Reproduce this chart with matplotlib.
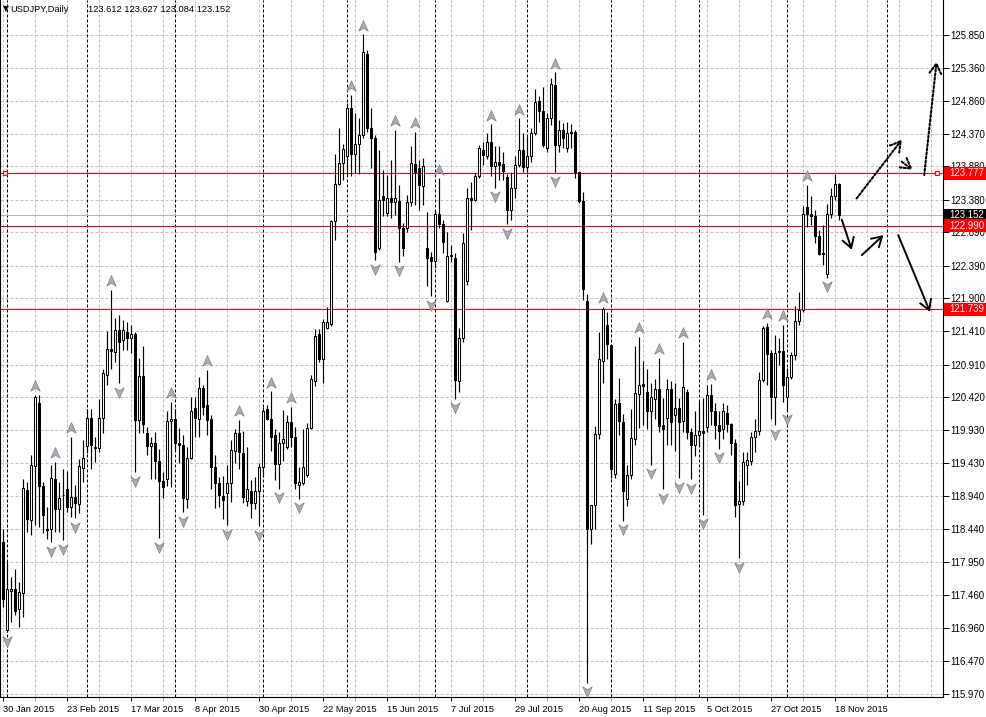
import numpy as np
import matplotlib
matplotlib.use("Agg")
import matplotlib.pyplot as plt
import matplotlib.transforms as mtransforms
from matplotlib.patches import Rectangle
from matplotlib.path import Path

plt.rcParams['font.family'] = ['Liberation Sans', 'DejaVu Sans']

# -------------------------
#  DATA
# -------------------------
symbol = "USDJPY,Daily"
header_ohlc = "123.612 123.627 123.084 123.152"

opens = [
    118.25, 116.93, 117.52, 117.54, 117.24, 117.49, 119.03, 118.58, 119.39, 120.34,
    119.09, 118.45, 118.45, 119.20, 118.75, 118.95, 119.04, 118.77, 118.93, 118.82,
    119.36, 119.69, 120.11, 119.66, 119.66, 120.11, 120.76, 121.14, 121.10, 121.43,
    121.28, 121.39, 121.31, 121.36, 120.08, 120.74, 119.88, 119.69, 119.73, 119.47,
    119.17, 119.19, 120.06, 120.10, 119.74, 119.71, 118.90, 119.51, 120.26, 120.10,
    120.56, 120.31, 120.09, 119.38, 119.13, 118.94, 118.98, 119.13, 119.61, 119.89,
    119.58, 118.87, 119.02, 118.84, 119.02, 119.37, 120.24, 120.09, 119.85, 119.42,
    119.74, 119.67, 120.05, 119.83, 119.11, 119.14, 119.25, 119.96, 120.67, 121.36,
    121.00, 121.46, 121.52, 123.06, 123.61, 123.93, 124.04, 124.75, 124.06, 124.22,
    124.35, 125.56, 124.46, 124.31, 122.65, 123.43, 123.18, 123.41, 123.35, 123.36,
    122.95, 122.95, 123.34, 123.91, 123.86, 123.59, 122.66, 122.52, 122.46, 123.16,
    123.02, 121.86, 122.55, 122.50, 120.66, 121.31, 122.16, 123.40, 123.38, 123.74,
    124.13, 124.03, 124.24, 123.89, 123.95, 123.92, 123.72, 123.23, 123.56, 123.90,
    124.13, 123.87, 124.03, 124.38, 124.86, 124.71, 124.15, 124.60, 125.10, 124.20,
    124.43, 124.15, 124.38, 124.40, 123.79, 123.36, 121.86, 118.44, 118.80, 119.87,
    120.96, 121.50, 121.20, 119.27, 120.33, 120.05, 118.89, 119.25, 119.79, 120.47,
    120.62, 120.50, 120.21, 120.39, 120.55, 120.00, 120.11, 120.54, 120.15, 120.26,
    120.06, 120.50, 119.90, 119.71, 119.85, 119.92, 119.97, 120.45, 120.21, 120.00,
    119.94, 120.18, 120.02, 119.73, 118.82, 118.86, 119.40, 119.46, 119.83, 119.91,
    120.68, 121.47, 121.08, 120.43, 121.12, 121.11, 120.42, 120.73, 121.05, 121.56,
    121.73, 123.27, 123.16, 123.13, 122.83, 122.58, 122.26, 123.16, 123.43, 123.612,
]
highs = [
    118.45, 117.95, 117.73, 117.85, 117.65, 119.20, 119.15, 119.55, 120.46, 120.45,
    119.15, 118.78, 119.40, 119.45, 119.15, 119.35, 119.31, 119.83, 119.10, 119.50,
    119.78, 120.25, 120.25, 119.83, 120.40, 120.85, 121.41, 122.03, 121.60, 121.65,
    121.58, 121.55, 121.50, 121.40, 121.01, 121.19, 119.98, 119.83, 119.90, 119.65,
    119.30, 120.21, 120.35, 120.25, 119.96, 119.85, 119.68, 120.43, 120.43, 120.73,
    120.60, 120.83, 120.15, 119.55, 119.23, 119.24, 119.40, 119.78, 119.95, 120.08,
    119.92, 119.67, 119.18, 119.23, 119.44, 120.28, 120.31, 120.51, 119.95, 119.90,
    120.23, 120.15, 120.28, 119.97, 119.38, 119.95, 120.04, 120.75, 121.44, 121.44,
    121.59, 121.77, 123.08, 124.06, 124.46, 124.22, 124.83, 124.95, 124.68, 124.60,
    125.86, 125.62, 124.75, 124.35, 124.13, 123.83, 123.75, 123.98, 124.43, 123.60,
    123.03, 123.45, 124.18, 124.40, 123.98, 124.00, 123.20, 122.60, 123.23, 123.70,
    123.08, 122.90, 122.70, 122.58, 121.45, 122.88, 123.55, 123.65, 123.78, 124.20,
    124.25, 124.38, 124.51, 124.18, 124.18, 124.10, 123.76, 123.79, 124.03, 124.60,
    124.38, 124.32, 124.45, 125.04, 124.94, 125.07, 124.68, 125.21, 125.29, 124.57,
    124.53, 124.54, 124.51, 124.43, 123.80, 123.49, 121.96, 118.80, 119.99, 121.39,
    121.77, 121.70, 121.21, 120.40, 120.71, 120.17, 119.40, 120.24, 121.19, 121.32,
    120.96, 120.85, 120.64, 120.70, 121.01, 120.41, 120.69, 120.66, 120.64, 120.41,
    121.25, 120.54, 119.96, 120.21, 120.36, 120.41, 120.60, 120.62, 120.34, 120.21,
    120.34, 120.30, 120.03, 119.80, 119.16, 119.60, 119.60, 119.90, 120.10, 120.80,
    121.48, 121.53, 121.13, 121.35, 121.30, 121.50, 120.86, 121.10, 121.78, 122.00,
    123.28, 123.60, 123.43, 123.23, 122.93, 123.00, 123.31, 123.56, 123.76, 123.627,
]
lows = [
    117.28, 116.90, 117.05, 117.15, 116.98, 117.13, 118.40, 118.35, 118.50, 118.48,
    118.38, 118.30, 118.25, 118.40, 118.40, 118.28, 118.70, 118.63, 118.61, 118.68,
    119.15, 119.58, 119.35, 119.45, 119.60, 119.88, 120.60, 120.85, 120.95, 120.63,
    121.13, 121.13, 121.08, 119.30, 119.88, 119.88, 119.55, 119.20, 119.20, 118.31,
    118.91, 119.09, 119.08, 119.63, 119.43, 118.70, 118.76, 119.50, 119.83, 119.83,
    120.15, 119.85, 119.05, 118.76, 118.78, 118.60, 118.50, 118.85, 119.43, 119.35,
    118.84, 118.79, 118.61, 118.74, 118.49, 119.23, 120.08, 119.61, 119.18, 119.05,
    119.46, 119.64, 119.67, 119.05, 118.90, 119.10, 119.23, 119.95, 120.59, 120.95,
    120.64, 121.44, 121.49, 122.78, 123.60, 123.68, 123.73, 123.73, 123.78, 123.77,
    124.30, 124.40, 123.85, 122.47, 122.63, 123.13, 123.13, 123.10, 123.15, 122.45,
    122.53, 122.90, 123.28, 123.30, 123.23, 123.30, 122.08, 121.93, 122.35, 122.95,
    122.58, 121.84, 122.45, 120.40, 120.50, 121.25, 122.10, 122.93, 123.36, 123.70,
    123.90, 123.99, 123.73, 123.56, 123.68, 123.67, 123.01, 123.08, 123.40, 123.87,
    123.79, 123.79, 123.95, 124.35, 124.54, 124.17, 124.09, 124.50, 123.79, 124.10,
    124.15, 124.09, 124.15, 123.70, 123.33, 121.87, 116.14, 118.22, 118.44, 119.80,
    120.64, 121.00, 119.21, 119.21, 119.85, 118.57, 118.79, 119.19, 119.70, 119.96,
    120.00, 119.95, 119.41, 120.10, 119.90, 119.04, 119.71, 119.70, 119.61, 119.21,
    119.90, 119.80, 119.19, 119.54, 119.70, 118.66, 119.90, 120.00, 119.80, 119.65,
    119.80, 119.90, 119.55, 118.62, 118.01, 118.80, 119.10, 119.40, 119.60, 119.85,
    120.65, 120.60, 120.10, 120.00, 120.90, 120.35, 120.22, 120.70, 120.98, 121.50,
    121.70, 122.97, 123.00, 122.73, 122.55, 122.40, 122.21, 123.10, 123.38, 123.084,
]
closes = [
    117.40, 117.55, 117.55, 117.21, 117.50, 119.06, 118.59, 119.40, 120.43, 119.09,
    118.65, 118.43, 119.21, 118.75, 118.91, 118.96, 118.78, 118.93, 118.84, 119.39,
    119.51, 120.11, 119.70, 119.67, 120.11, 120.78, 121.14, 121.11, 121.43, 121.25,
    121.43, 121.30, 121.36, 120.08, 120.74, 120.02, 119.69, 119.74, 119.46, 119.16,
    119.08, 120.06, 120.09, 119.73, 119.70, 118.91, 119.51, 120.22, 120.11, 120.56,
    120.28, 120.08, 119.38, 119.13, 118.95, 118.88, 119.13, 119.63, 119.89, 119.60,
    118.92, 119.04, 118.84, 119.01, 119.37, 120.21, 120.10, 119.82, 119.42, 119.73,
    119.79, 120.05, 119.83, 119.13, 119.15, 119.38, 119.96, 120.69, 121.34, 121.00,
    121.54, 121.54, 123.06, 123.61, 123.93, 124.14, 124.75, 124.06, 124.22, 124.35,
    125.59, 124.46, 124.31, 122.60, 123.38, 123.38, 123.40, 123.34, 123.41, 122.95,
    122.65, 123.34, 123.93, 123.80, 123.60, 123.88, 122.50, 122.46, 123.16, 123.01,
    122.75, 122.54, 122.54, 120.68, 121.31, 122.73, 123.41, 123.38, 123.74, 124.15,
    124.05, 124.24, 123.89, 123.95, 123.90, 123.81, 123.23, 123.56, 123.90, 124.13,
    123.87, 124.03, 124.38, 124.85, 124.71, 124.20, 124.60, 125.11, 124.20, 124.43,
    124.30, 124.38, 124.40, 123.79, 123.36, 122.04, 118.44, 118.80, 119.87, 121.00,
    121.74, 121.21, 119.35, 120.32, 120.06, 119.01, 119.25, 119.81, 120.49, 120.60,
    120.59, 120.21, 120.42, 120.55, 119.99, 119.95, 120.54, 120.05, 120.26, 120.05,
    120.57, 119.90, 119.71, 119.86, 119.92, 119.89, 120.46, 120.21, 120.00, 119.92,
    120.21, 120.02, 119.73, 118.81, 118.87, 119.45, 119.48, 119.83, 119.91, 120.68,
    121.45, 121.07, 120.43, 121.08, 121.10, 120.60, 120.73, 121.05, 121.56, 121.73,
    123.16, 123.16, 123.13, 122.83, 122.57, 122.57, 123.16, 123.43, 123.62, 123.152,
]

date_labels = ["30 Jan 2015", "23 Feb 2015", "17 Mar 2015", "8 Apr 2015", "30 Apr 2015",
               "22 May 2015", "15 Jun 2015", "7 Jul 2015", "29 Jul 2015", "20 Aug 2015",
               "11 Sep 2015", "5 Oct 2015", "27 Oct 2015", "18 Nov 2015"]
bars_per_label = 16
bars_per_grid = 8
month_starts = [1, 21, 43, 65, 86, 108, 131, 152, 174, 196, 221]

price_ticks = [125.850, 125.360, 124.860, 124.370, 123.880, 123.380, 122.890, 122.390,
               121.900, 121.410, 120.910, 120.420, 119.930, 119.430, 118.940, 118.440,
               117.950, 117.460, 116.960, 116.470, 115.970]

fractal_up = [8, 13, 17, 27, 42, 51, 59, 67, 72, 87, 90, 98, 103, 109, 122, 129, 138,
              150, 159, 164, 170, 177, 191, 195, 201]
fractal_down = [1, 12, 15, 18, 29, 33, 39, 45, 56, 64, 69, 74, 93, 99, 107, 113, 123, 126,
                138, 146, 155, 162, 165, 169, 172, 175, 179, 184, 193, 196, 206]

level_lines = [123.777, 122.990, 121.739]
bid_price = 123.152

# hand drawn arrows: (bar0, price0, bar1, price1)
dotted_arrows = [(213.4, 123.40, 224.7, 124.28),
                 (224.7, 123.95, 227.4, 123.83),
                 (230.3, 123.75, 233.4, 125.45)]
solid_arrows = [(209.7, 123.08, 212.2, 122.63),
                (214.7, 122.55, 220.1, 122.85),
                (223.8, 122.85, 231.75, 121.70)]

# -------------------------
#  FIGURE
# -------------------------
W, H = 986, 717
fig = plt.figure(figsize=(W / 100, H / 100), dpi=100)
fig.patch.set_facecolor('white')
ax = fig.add_axes([0, 20 / H, 943 / W, 697 / H])
ax.set_xlim(-0.75, 235)
ax.set_ylim(115.925, 126.375)

GRID = '#c0c0c0'
FS = 6.7
FS_AXIS = 6.9

# grid
for p in price_ticks:
    ax.axhline(p, color=GRID, lw=0.72, ls=(0, (3, 2)), zorder=0.5)
for k in range(0, 30):
    ax.axvline(k * bars_per_grid, color=GRID, lw=0.72, ls=(0, (3, 2)), zorder=0.5)
for m in month_starts:
    ax.axvline(m, color='black', lw=0.72, ls=(0, (3, 2)), zorder=1)

# horizontal levels
ax.axhline(bid_price, color='#b4b4b4', lw=0.72, zorder=1.5)
for p in level_lines:
    ax.axhline(p, color='#ff0000', lw=0.72, zorder=2)

# candles
o = np.array(opens); h = np.array(highs); l = np.array(lows); c = np.array(closes)
x = np.arange(len(o))
bull = c >= o
ax.vlines(x, l, h, color='black', lw=0.85, zorder=3)
ax.bar(x[bull], c[bull] - o[bull], bottom=o[bull], width=0.6, color='white',
       edgecolor='black', lw=0.75, zorder=4)
ax.bar(x[~bull], o[~bull] - c[~bull], bottom=c[~bull], width=0.6, color='black',
       edgecolor='black', lw=0.75, zorder=4)

# fractal arrows
up_marker = Path([(0, 1), (0.8, -0.8), (0, -0.3), (-0.8, -0.8), (0, 1)],
                 [Path.MOVETO, Path.LINETO, Path.LINETO, Path.LINETO, Path.CLOSEPOLY])
dn_marker = Path([(0, -1), (0.8, 0.8), (0, 0.3), (-0.8, 0.8), (0, -1)],
                 [Path.MOVETO, Path.LINETO, Path.LINETO, Path.LINETO, Path.CLOSEPOLY])
fu = np.array(fractal_up); fd = np.array(fractal_down)
ax.plot(fu, h[fu] + 0.13, ls='none', marker=up_marker, ms=8.5, mfc='#a9abb6',
        mec='#7d7f8a', mew=0.5, zorder=5)
ax.plot(fd, l[fd] - 0.13, ls='none', marker=dn_marker, ms=8.5, mfc='#a9abb6',
        mec='#7d7f8a', mew=0.5, zorder=5)

# drawn arrows
for x0, p0, x1, p1 in dotted_arrows:
    ax.annotate('', xy=(x1, p1), xytext=(x0, p0), annotation_clip=False,
                arrowprops=dict(arrowstyle='->,head_length=0.5,head_width=0.3',
                                lw=1.5, ls=(0, (1, 1)), color='black',
                                mutation_scale=14, shrinkA=0, shrinkB=0), zorder=6)
for x0, p0, x1, p1 in solid_arrows:
    ax.annotate('', xy=(x1, p1), xytext=(x0, p0), annotation_clip=False,
                arrowprops=dict(arrowstyle='->,head_length=0.5,head_width=0.3',
                                lw=1.4, color='black', mutation_scale=14,
                                shrinkA=0, shrinkB=0), zorder=6)

# anchor squares of the selected line
trans = mtransforms.blended_transform_factory(ax.transAxes, ax.transData)
ax.plot([5 / 943, 937 / 943], [level_lines[0]] * 2, transform=trans, ls='none',
        marker='s', ms=3.5, mfc='white', mec='#ff0000', mew=0.8, zorder=7, clip_on=False)

# axes styling
for side in ['left', 'right', 'bottom']:
    ax.spines[side].set_color('black')
    ax.spines[side].set_linewidth(0.8)
ax.spines['top'].set_visible(False)

ax.yaxis.tick_right()
ax.set_yticks(price_ticks)
ax.set_yticklabels([f"{p:.3f}" for p in price_ticks])
ax.tick_params(axis='y', length=4, width=0.7, pad=1.5, labelsize=FS_AXIS, colors='black')

ax.set_xticks([k * bars_per_label for k in range(len(date_labels))])
ax.set_xticklabels(date_labels, ha='left')
ax.set_xticks([k * bars_per_label + bars_per_grid for k in range(len(date_labels))], minor=True)
ax.tick_params(axis='x', which='major', length=3, width=0.7, pad=2.5, labelsize=FS)
ax.tick_params(axis='x', which='minor', length=3, width=0.7, color='#a0a0a0')

# price tags on the right axis
tag_h = 0.19
for p, fc in [(level_lines[0], '#ff0000'), (bid_price, 'black'),
              (level_lines[1], '#ff0000'), (level_lines[2], '#ff0000')]:
    ax.add_patch(Rectangle((944 / 943, p - tag_h / 2), (W - 944) / 943, tag_h,
                           transform=trans, facecolor=fc, edgecolor='none',
                           clip_on=False, zorder=10))
    ax.text(949.5 / 943, p, f"{p:.3f}", transform=trans, color='white', fontsize=FS_AXIS,
            ha='left', va='center', zorder=11, clip_on=False)

# header
fig.text(2.5 / W, 1 - 9 / H, "\u25BC", fontsize=5.5, va='center', ha='left',
         family=['DejaVu Sans'])
fig.text(10 / W, 1 - 9 / H, symbol, fontsize=FS, va='center', ha='left')
fig.text(88 / W, 1 - 9 / H, header_ohlc, fontsize=FS, va='center', ha='left')

fig.savefig("out.png", dpi=100, facecolor='white')
